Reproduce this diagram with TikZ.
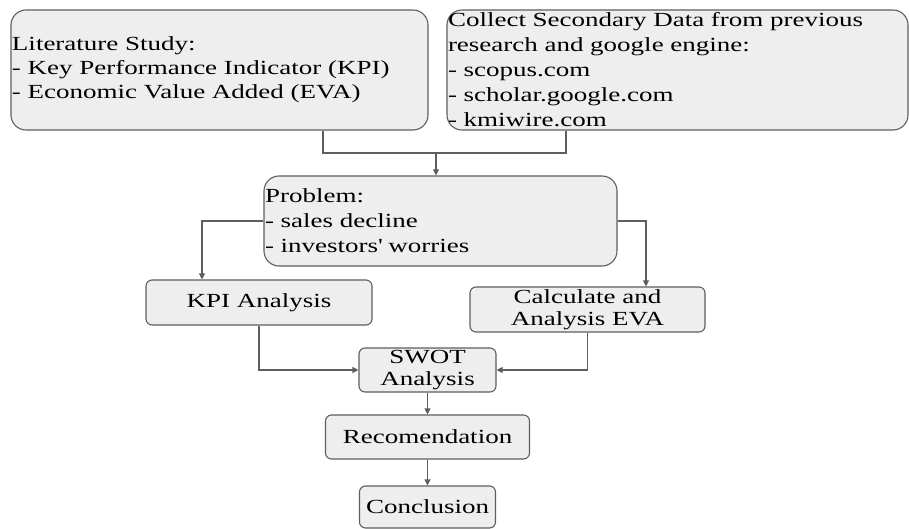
\documentclass[tikz,border=0pt]{standalone}
\usepackage{fontspec}
\setmainfont{Liberation Serif}[FakeStretch=1.35]
\usepackage{tikz}
\usetikzlibrary{positioning, arrows.meta}
\definecolor{boxfill}{HTML}{EEEEEE}
\definecolor{boxline}{HTML}{5E5E5E}
\tikzset{bigbox/.style={draw=boxline, fill=boxfill, line width=1.1pt, rounded corners=15pt, inner xsep=1pt, inner ysep=0pt, align=left, font=\fontsize{20}{25}\selectfont},
    smallbox/.style={draw=boxline, fill=boxfill, line width=1.1pt, rounded corners=6pt, inner sep=0pt, align=center, font=\fontsize{20}{22}\selectfont},
    arr/.style={draw=boxline, line width=1.1pt, -{Triangle[length=6pt,width=6pt]}}}

\begin{document}
\begin{tikzpicture}[x=1pt,y=-1pt]
    \useasboundingbox (0,0) rectangle (909,529);
    \node[bigbox, minimum width=417pt, minimum height=120pt, text width=415pt, font=\fontsize{20}{24}\selectfont](lit) at (219.5,70) {Literature Study:\\- Key Performance Indicator (KPI)\\- Economic Value Added (EVA)};
    \node[bigbox, minimum width=461pt, minimum height=120pt, text width=459pt](col) at (677.5,70) {Collect Secondary Data from previous\\research and google engine:\\- scopus.com\\- scholar.google.com\\- kmiwire.com};
    \node[bigbox, minimum width=353pt, minimum height=90pt, text width=351pt](prob) at (440.5,221) {Problem:\\- sales decline\\- investors\textquotesingle{} worries};
    \node[smallbox, minimum width=226pt, minimum height=45pt](kpi) at (259,302.5) {KPI Analysis};
    \node[smallbox, minimum width=235pt, minimum height=45pt](calc) at (587.5,309.5) {Calculate and\\Analysis EVA};
    \node[smallbox, minimum width=137pt, minimum height=44pt](swot) at (427.5,370) {SWOT\\Analysis};
    \node[smallbox, minimum width=204pt, minimum height=44pt](rec) at (427.5,437) {Recomendation};
    \node[smallbox, minimum width=136pt, minimum height=42pt](conc) at (427.5,507) {Conclusion};
    \coordinate (j) at (436,153);
    \draw[draw=boxline, line width=1.1pt]([xshift=103.5pt]lit.south) |- (j) -| ([xshift=-111.5pt]col.south);
    \draw[arr](j) -- (j |- prob.north);
    \draw[arr](prob.west) -| ([xshift=-57pt]kpi.north);
    \draw[arr](prob.east) -| ([xshift=58.5pt]calc.north);
    \draw[arr](kpi.south) |- (swot.west);
    \draw[arr](calc.south) |- (swot.east);
    \draw[arr](swot) -- (rec);
    \draw[arr](rec) -- (conc);
\end{tikzpicture}
\end{document}
